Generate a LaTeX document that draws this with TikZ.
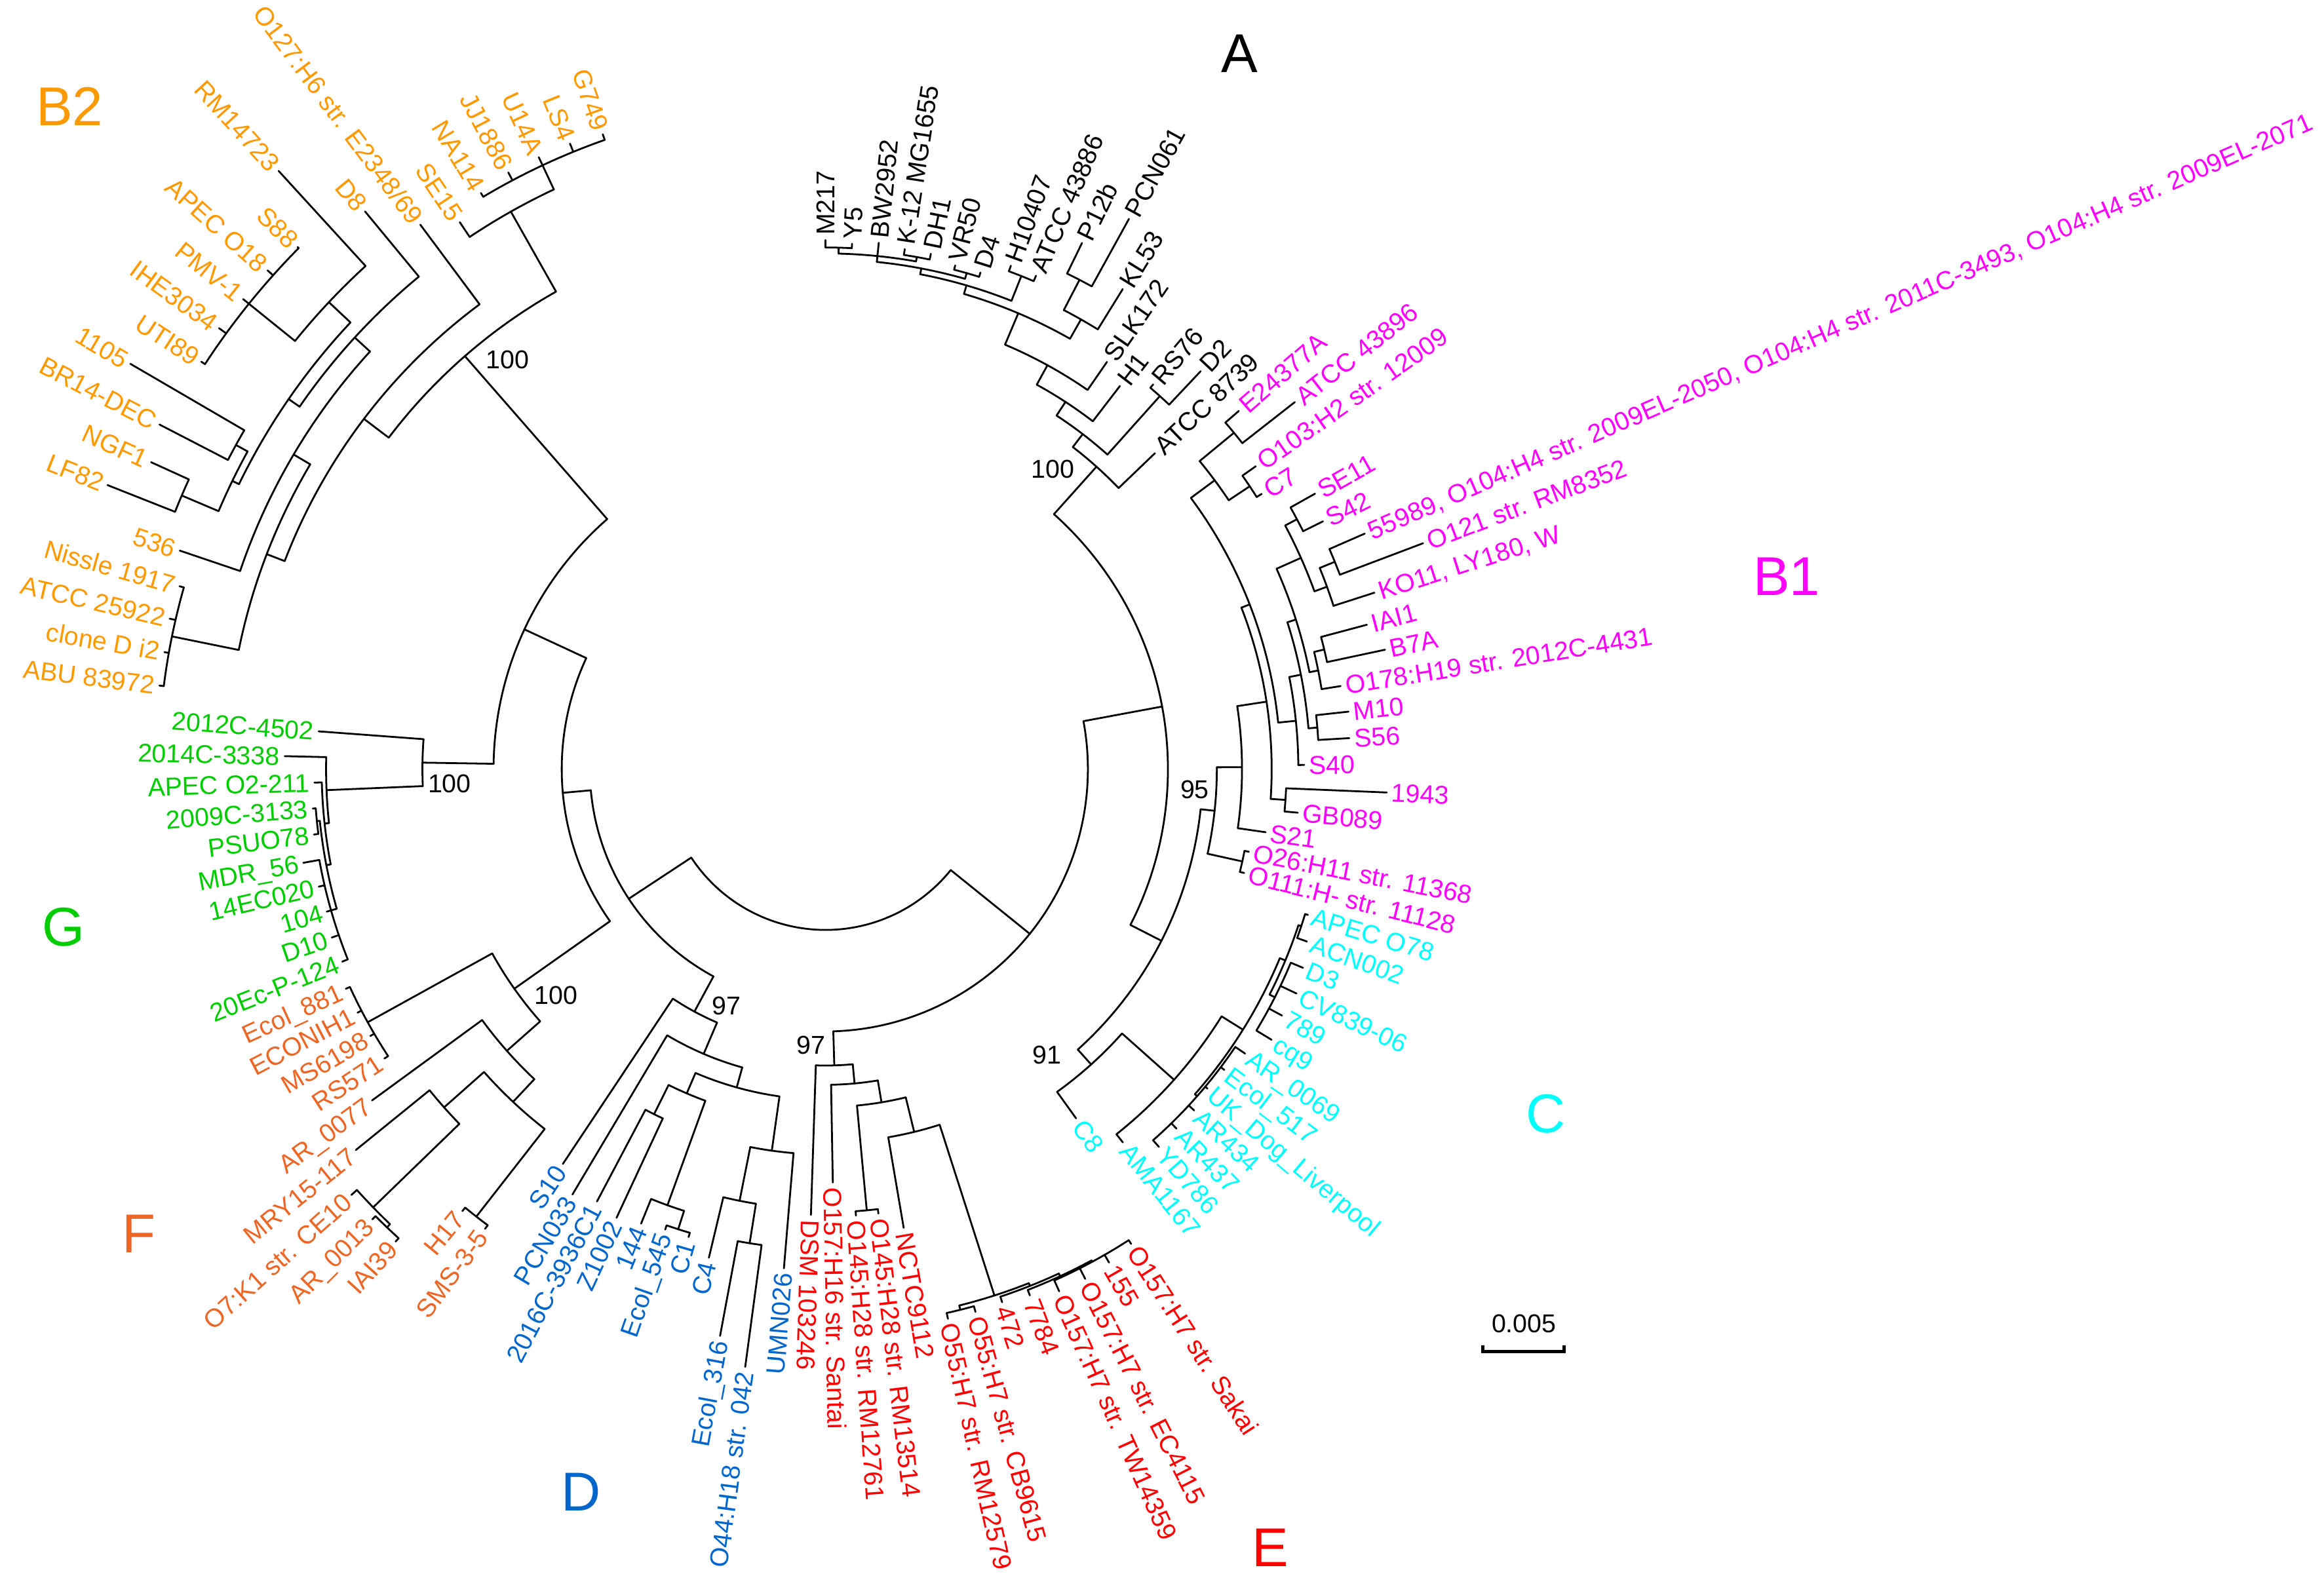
\documentclass[tikz,border=0pt]{standalone}
\usepackage{fontspec}
\setmainfont{Liberation Sans}
\usetikzlibrary{positioning}

\definecolor{cBtwo}{RGB}{255,153,0}
\definecolor{cBone}{RGB}{255,0,255}
\definecolor{cC}{RGB}{0,255,255}
\definecolor{cE}{RGB}{255,0,0}
\definecolor{cD}{RGB}{0,102,204}
\definecolor{cF}{RGB}{236,102,38}
\definecolor{cG}{RGB}{0,204,0}

\tikzset{
  branch/.style={line width=0.7pt, line cap=round, line join=round},
  leaflab/.style={inner sep=0pt, font=\fontsize{9.9}{11}\selectfont, text height=7.1pt, text depth=0pt},
  boot/.style={inner sep=0pt, font=\fontsize{9.9}{11}\selectfont},
  group/.style={inner sep=0pt, font=\fontsize{21}{25}\selectfont},
}

% leaf: name, index round the circle, tip radius, colour, label
\newcommand{\leaf}[5]{%
  \pgfmathsetmacro\lfA{90-2.887*#2}%
  \pgfmathsetmacro\lfT{#3+3}%
  \expandafter\xdef\csname angof#1\endcsname{\lfA}%
  \expandafter\xdef\csname radof#1\endcsname{#3}%
  \coordinate (#1) at (\lfA:#3);
  \ifnum#2>63
    \pgfmathsetmacro\lfR{\lfA+180}%
    \node[leaflab, text=#4, anchor=east, rotate=\lfR] (#1-lab) at (\lfA:\lfT) {#5};
  \else
    \node[leaflab, text=#4, anchor=west, rotate=\lfA] (#1-lab) at (\lfA:\lfT) {#5};
  \fi
}

% inner node: name, radius, children
\newcommand{\clade}[3]{%
  \foreach \ch [count=\kk] in {#3} {\ifnum\kk=1 \xdef\cfirst{\ch}\fi \xdef\clast{\ch}}%
  \edef\angA{\csname angof\cfirst\endcsname}%
  \edef\angB{\csname angof\clast\endcsname}%
  \draw[branch] (\angA:#2) arc[start angle=\angA, end angle=\angB, radius=#2];
  \foreach \ch in {#3} {%
    \edef\chA{\csname angof\ch\endcsname}%
    \draw[branch] (\chA:#2) -- (\ch);
  }%
  \pgfmathsetmacro\cdMid{(\angA+\angB)/2}%
  \expandafter\xdef\csname angof#1\endcsname{\cdMid}%
  \expandafter\xdef\csname radof#1\endcsname{#2}%
  \coordinate (#1) at (\cdMid:#2);
}

\begin{document}
\begin{tikzpicture}[x=0.2mm, y=0.2mm]
  \useasboundingbox (-557,-557) rectangle (1011,519);

  % A
  \leaf{m217}{0}{357}{black}{M217}
  \leaf{y5}{1}{355}{black}{Y5}
  \leaf{bw2952}{2}{357}{black}{BW2952}
  \leaf{k12}{3}{355}{black}{K-12 MG1655}
  \leaf{dh1}{4}{355}{black}{DH1}
  \leaf{vr50}{5}{351}{black}{VR50}
  \leaf{d4}{6}{351}{black}{D4}
  \leaf{h10407}{7}{362}{black}{H10407}
  \leaf{atcc43886}{8}{362}{black}{ATCC 43886}
  \leaf{p12b}{9}{395}{black}{P12b}
  \leaf{pcn061}{10}{424}{black}{PCN061}
  \leaf{kl53}{11}{381}{black}{KL53}
  \leaf{slk172}{12}{334}{black}{SLK172}
  \leaf{h1}{13}{326}{black}{H1}
  \leaf{rs76}{14}{341}{black}{RS76}
  \leaf{d2}{15}{369}{black}{D2}
  \leaf{atcc8739}{16}{308}{black}{ATCC 8739}

  % B1
  \leaf{e24377a}{17}{369}{cBone}{E24377A}
  \leaf{atcc43896}{18}{402}{cBone}{ATCC 43896}
  \leaf{o103}{19}{355}{cBone}{O103:H2 str. 12009}
  \leaf{c7}{20}{348}{cBone}{C7}
  \leaf{se11}{21}{379}{cBone}{SE11}
  \leaf{s42}{22}{375}{cBone}{S42}
  \leaf{x55989}{23}{397}{cBone}{55989, O104:H4 str. 2009EL-2050, O104:H4 str. 2011C-3493, O104:H4 str. 2009EL-2071}
  \leaf{o121}{24}{431}{cBone}{O121 str. RM8352}
  \leaf{ko11}{25}{389}{cBone}{KO11, LY180, W}
  \leaf{iai1}{26}{378}{cBone}{IAI1}
  \leaf{b7a}{27}{386}{cBone}{B7A}
  \leaf{o178}{28}{352}{cBone}{O178:H19 str. 2012C-4431}
  \leaf{m10}{29}{355}{cBone}{M10}
  \leaf{s56}{30}{354}{cBone}{S56}
  \leaf{s40}{31}{323}{cBone}{S40}
  \leaf{x1943}{32}{379}{cBone}{1943}
  \leaf{gb089}{33}{320}{cBone}{GB089}
  \leaf{s21}{34}{300}{cBone}{S21}
  \leaf{o26}{35}{291}{cBone}{O26:H11 str. 11368}
  \leaf{o111}{36}{291}{cBone}{O111:H- str. 11128}

  % C
  \leaf{apeco78}{37}{340}{cC}{APEC O78}
  \leaf{acn002}{38}{345}{cC}{ACN002}
  \leaf{d3}{39}{349}{cC}{D3}
  \leaf{cv839}{40}{352}{cC}{CV839-06}
  \leaf{x789}{41}{350}{cC}{789}
  \leaf{cq9}{42}{352}{cC}{cq9}
  \leaf{ar0069}{43}{342}{cC}{AR\_0069}
  \leaf{ecol517}{44}{337}{cC}{Ecol\_517}
  \leaf{ukdog}{45}{336}{cC}{UK\_Dog\_Liverpool}
  \leaf{ar434}{46}{339}{cC}{AR434}
  \leaf{ar437}{47}{339}{cC}{AR437}
  \leaf{yd786}{48}{340}{cC}{YD786}
  \leaf{ama1167}{49}{322}{cC}{AMA1167}
  \leaf{c8}{50}{290}{cC}{C8}

  % E
  \leaf{sakai}{51}{381}{cE}{O157:H7 str. Sakai}
  \leaf{x155}{52}{384}{cE}{155}
  \leaf{ec4115}{53}{386}{cE}{O157:H7 str. EC4115}
  \leaf{tw14359}{54}{386}{cE}{O157:H7 str. TW14359}
  \leaf{x7784}{55}{381}{cE}{7784}
  \leaf{x472}{56}{379}{cE}{472}
  \leaf{cb9615}{57}{380}{cE}{O55:H7 str. CB9615}
  \leaf{rm12579}{58}{380}{cE}{O55:H7 str. RM12579}
  \leaf{nctc9112}{59}{314}{cE}{NCTC9112}
  \leaf{rm13514}{60}{302}{cE}{O145:H28 str. RM13514}
  \leaf{rm12761}{61}{302}{cE}{O145:H28 str. RM12761}
  \leaf{santai}{62}{279}{cE}{O157:H16 str. Santai}
  \leaf{dsm}{63}{301}{cE}{DSM 103246}

  % D
  \leaf{umn026}{64}{338}{cD}{UMN026}
  \leaf{o44}{65}{407}{cD}{O44:H18 str. 042}
  \leaf{ecol316}{66}{389}{cD}{Ecol\_316}
  \leaf{c4}{67}{339}{cD}{C4}
  \leaf{c1}{68}{329}{cD}{C1}
  \leaf{ecol545}{69}{329}{cD}{Ecol\_545}
  \leaf{x144}{70}{331}{cD}{144}
  \leaf{z1002}{71}{334}{cD}{Z1002}
  \leaf{x2016c}{72}{330}{cD}{2016C-3936C1}
  \leaf{pcn033}{73}{334}{cD}{PCN033}
  \leaf{s10}{74}{320}{cD}{S10}

  % F
  \leaf{sms}{75}{386}{cF}{SMS-3-5}
  \leaf{h17}{76}{386}{cF}{H17}
  \leaf{iai39}{77}{431}{cF}{IAI39}
  \leaf{ar0013}{78}{431}{cF}{AR\_0013}
  \leaf{o7k1}{79}{430}{cF}{O7:K1 str. CE10}
  \leaf{mry}{80}{408}{cF}{MRY15-117}
  \leaf{ar0077}{81}{379}{cF}{AR\_0077}
  \leaf{rs571}{82}{356}{cF}{RS571}
  \leaf{ms6198}{83}{356}{cF}{MS6198}
  \leaf{econih1}{84}{356}{cF}{ECONIH1}
  \leaf{ecol881}{85}{356}{cF}{Ecol\_881}

  % G
  \leaf{ec124}{86}{351}{cG}{20Ec-P-124}
  \leaf{d10}{87}{352}{cG}{D10}
  \leaf{x104}{88}{350}{cG}{104}
  \leaf{ec020}{89}{351}{cG}{14EC020}
  \leaf{mdr56}{90}{358}{cG}{MDR\_56}
  \leaf{psuo78}{91}{348}{cG}{PSUO78}
  \leaf{x3133}{92}{347}{cG}{2009C-3133}
  \leaf{apeco2}{93}{345}{cG}{APEC O2-211}
  \leaf{x3338}{94}{365}{cG}{2014C-3338}
  \leaf{x4502}{95}{343}{cG}{2012C-4502}

  % B2
  \leaf{abu}{96}{453}{cBtwo}{ABU 83972}
  \leaf{cloned}{97}{453}{cBtwo}{clone D i2}
  \leaf{atcc25922}{98}{454}{cBtwo}{ATCC 25922}
  \leaf{nissle}{99}{453}{cBtwo}{Nissle 1917}
  \leaf{x536}{100}{460}{cBtwo}{536}
  \leaf{lf82}{101}{521}{cBtwo}{LF82}
  \leaf{ngf1}{102}{500}{cBtwo}{NGF1}
  \leaf{br14}{103}{506}{cBtwo}{BR14-DEC}
  \leaf{x1105}{104}{543}{cBtwo}{1105}
  \leaf{uti89}{105}{503}{cBtwo}{UTI89}
  \leaf{ihe3034}{106}{506}{cBtwo}{IHE3034}
  \leaf{pmv1}{107}{505}{cBtwo}{PMV-1}
  \leaf{apeco18}{108}{505}{cBtwo}{APEC O18}
  \leaf{s88}{109}{501}{cBtwo}{S88}
  \leaf{rm14723}{110}{547}{cBtwo}{RM14723}
  \leaf{d8}{111}{488}{cBtwo}{D8}
  \leaf{o127}{112}{458}{cBtwo}{O127:H6 str. E2348/69}
  \leaf{se15}{113}{444}{cBtwo}{SE15}
  \leaf{na114}{114}{453}{cBtwo}{NA114}
  \leaf{jj1886}{115}{456}{cBtwo}{JJ1886}
  \leaf{u14a}{116}{456}{cBtwo}{U14A}
  \leaf{ls4}{117}{456}{cBtwo}{LS4}
  \leaf{g749}{118}{454}{cBtwo}{G749}

  % inner nodes, A
  \clade{nMY}{352}{m217,y5}
  \clade{nKD}{351}{k12,dh1}
  \clade{nAtop}{348}{nMY,bw2952,nKD}
  \clade{nVD}{348}{vr50,d4}
  \clade{nAseven}{344}{nAtop,nVD}
  \clade{nHA}{358}{h10407,atcc43886}
  \clade{nAfive}{340}{nAseven,nHA}
  \clade{nPP}{372}{p12b,pcn061}
  \clade{nAsix}{349}{nPP,kl53}
  \clade{nAfour}{334}{nAfive,nAsix}
  \clade{nAthree}{311}{nAfour,slk172}
  \clade{nAtwo}{296}{nAthree,h1}
  \clade{nRD}{338}{rs76,d2}
  \clade{nAone}{285}{nAtwo,nRD}
  \clade{cladeA}{274}{nAone,atcc8739}

  % inner nodes, B1
  \clade{nEA}{357}{e24377a,atcc43896}
  \clade{nOC}{344}{o103,c7}
  \clade{nBd}{327}{nEA,nOC}
  \clade{nSS}{360}{se11,s42}
  \clade{nSO}{371}{x55989,o121}
  \clade{nSK}{360}{nSO,ko11}
  \clade{nSG}{351}{nSS,nSK}
  \clade{nIB}{346}{iai1,b7a}
  \clade{nIBO}{339}{nIB,o178}
  \clade{nBg}{333}{nSG,nIBO}
  \clade{nMS}{333}{m10,s56}
  \clade{nBf}{327}{nBg,nMS}
  \clade{nBe}{319}{nBf,s40}
  \clade{nBc}{307}{nBd,nBe}
  \clade{nGB}{311}{x1943,gb089}
  \clade{nBb}{301}{nBc,nGB}
  \clade{nBa}{281}{nBb,s21}
  \clade{nOO}{288}{o26,o111}
  \clade{cladeBone}{264}{nBa,nOO}

  % inner nodes, C
  \clade{nCthreea}{338}{apeco78,acn002}
  \clade{nCthreeb}{340}{d3,cv839,x789,cq9}
  \clade{nCthree}{336}{nCthreea,nCthreeb}
  \clade{nCfour}{334}{ar0069,ecol517,ukdog,ar434,ar437,yd786}
  \clade{nCtwo}{332}{nCthree,nCfour}
  \clade{nCrest}{315}{nCtwo,ama1167}
  \clade{cladeC}{268}{nCrest,c8}
  \clade{nBC}{254.5}{cladeBone,cladeC}

  % inner nodes, E
  \clade{nOst}{378}{sakai,x155,ec4115,tw14359}
  \clade{nEsix}{377}{x7784,nOst}
  \clade{nEfive}{375}{x472,nEsix}
  \clade{nOA}{376}{cb9615,rm12579}
  \clade{nEfour}{373}{nEfive,nOA}
  \clade{nEthree}{252}{nEfour,nctc9112}
  \clade{nOH}{299}{rm13514,rm12761}
  \clade{nEtwo}{228}{nEthree,nOH}
  \clade{nEone}{213}{nEtwo,santai}
  \clade{cladeE}{200}{nEone,dsm}

  \clade{nX}{231}{cladeA,nBC}
  \clade{nR}{177}{nX,cladeE}

  % inner nodes, D
  \clade{nDsix}{324}{ecol316,o44}
  \clade{nDfive}{297}{nDsix,c4}
  \clade{nDfour}{260}{umn026,nDfive}
  \clade{nEC}{326}{c1,ecol545}
  \clade{nDeight}{313}{nEC,x144}
  \clade{nDseven}{260}{z1002,x2016c}
  \clade{nDthree}{238}{nDeight,nDseven}
  \clade{nDtwo}{223}{nDfour,nDthree}
  \clade{nDprime}{209}{nDtwo,pcn033}
  \clade{cladeD}{186}{nDprime,s10}

  % inner nodes, F
  \clade{nFsix}{383}{sms,h17}
  \clade{nAI}{428}{iai39,ar0013}
  \clade{nFfive}{425}{nAI,o7k1}
  \clade{nFfour}{344}{nFfive,mry}
  \clade{nFthree}{308}{nFsix,nFfour}
  \clade{nFtwo}{287}{nFthree,ar0077}
  \clade{nFone}{353}{rs571,ms6198,econih1,ecol881}
  \clade{cladeF}{257}{nFtwo,nFone}

  % inner nodes, G
  \clade{nGfour}{347}{ec124,d10,x104,ec020,mdr56}
  \clade{nGpair}{345}{psuo78,x3133}
  \clade{nGthree}{343}{nGfour,nGpair}
  \clade{nGtwo}{340}{nGthree,apeco2}
  \clade{nGone}{337}{nGtwo,x3338}
  \clade{cladeG}{272}{nGone,x4502}

  % inner nodes, B2
  \clade{nANC}{450}{abu,cloned,atcc25922,nissle}
  \clade{nPtwo}{472}{lf82,ngf1}
  \clade{nPone}{454}{br14,x1105}
  \clade{nQ}{445}{nPtwo,nPone}
  \clade{nSst}{500}{uti89,ihe3034,pmv1,apeco18,s88}
  \clade{nRMS}{460}{nSst,rm14723}
  \clade{nBt}{440}{nQ,nRMS}
  \clade{nBv}{431}{nBt,d8}
  \clade{nBw}{417}{x536,nBv}
  \clade{nBz}{404}{nANC,nBw}
  \clade{nBy}{391}{nBz,o127}
  \clade{nBsta}{450}{na114,jj1886,u14a,ls4,g749}
  \clade{nBx}{432}{se15,nBsta}
  \clade{cladeBtwo}{370}{nBy,nBx}

  \clade{nBG}{224}{cladeBtwo,cladeG}
  \clade{nLA}{178}{nBG,cladeF}
  \clade{nL}{159}{nLA,cladeD}
  \clade{nRoot}{108.5}{nL,nR}

  % bootstrap values
  \node[boot] (bsBtwo) at (-214.4,276.2) {100};
  \node[boot] (bsA) at (153.2,202.2) {100};
  \node[boot] (bsBone) at (249.1,-13.9) {95};
  \node[boot] (bsG) at (-253.7,-9.8) {100};
  \node[boot] (bsF) at (-181.9,-152.7) {100};
  \node[boot] (bsD) at (-66.9,-159.6) {97};
  \node[boot] (bsE) at (-10,-186.2) {97};
  \node[boot] (bsC) at (149.4,-193) {91};

  % group letters
  \node[group, text=cBtwo] (grBtwo) at (-510,447) {B2};
  \node[group] (grA) at (279.3,482.7) {A};
  \node[group, text=cBone] (grBone) at (648.5,130.1) {B1};
  \node[group, text=cC] (grC) at (485.9,-232.7) {C};
  \node[group, text=cE] (grE) at (299.9,-525.3) {E};
  \node[group, text=cD] (grD) at (-164.9,-487.7) {D};
  \node[group, text=cF] (grF) at (-463.1,-313.6) {F};
  \node[group, text=cG] (grG) at (-513.9,-106.4) {G};

  % scale bar
  \coordinate (barL) at (443.3,-393.1);
  \coordinate (barR) at (498.4,-393.1);
  \draw[line width=1.2pt] ([yshift=2.5]barL) -- (barL) -- (barR) -- ([yshift=2.5]barR);
  \node[boot] (barlab) at (471.2,-374.3) {0.005};
\end{tikzpicture}
\end{document}
